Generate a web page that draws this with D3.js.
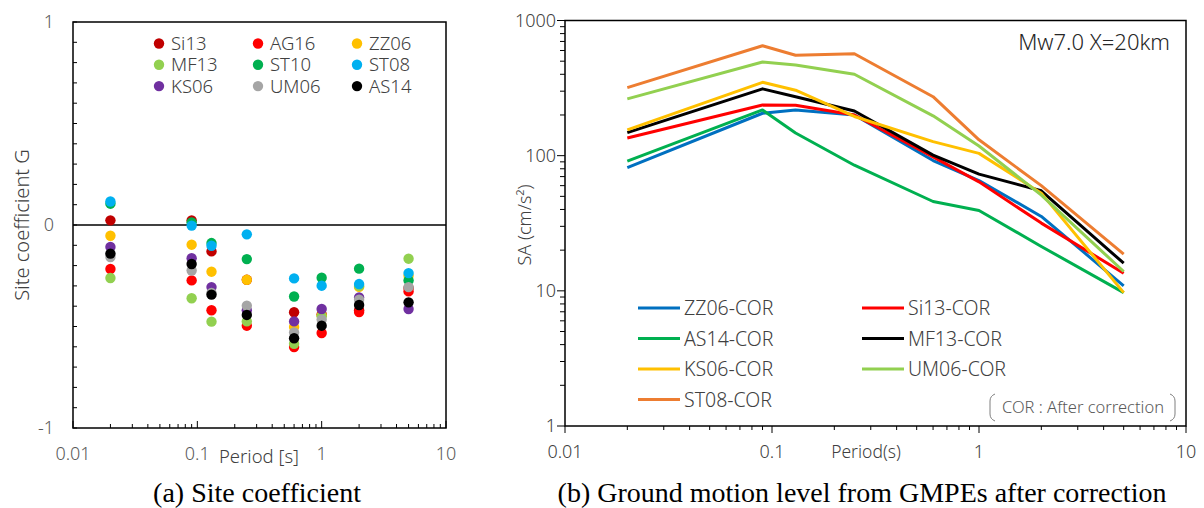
<!DOCTYPE html>
<html>
<head>
<meta charset="utf-8">
<script src="https://d3js.org/d3.v7.min.js"></script>
<style>
  body { margin: 0; background: #fff; }
  svg text { font-family: "Noto Sans", "DejaVu Sans", sans-serif; font-weight: 300; }
  .cap { font-family: "Liberation Serif", "DejaVu Serif", serif; font-weight: normal !important; }
</style>
</head>
<body>
<script>
// ---- data ----
var periods = [0.02, 0.09, 0.13, 0.25, 0.6, 1, 2, 5];

// (a) site coefficient G
var siteNames = ["Si13", "AG16", "ZZ06", "MF13", "ST10", "ST08", "KS06", "UM06", "AS14"];
var siteColors = ["#C00000", "#FF0000", "#FFC000", "#92D050", "#00B050", "#00B0F0", "#7030A0", "#A5A5A5", "#000000"];
var gSi13 = [0.023, 0.023, -0.13, -0.27, -0.43, -0.44, -0.42, -0.31];
var gAG16 = [-0.217, -0.273, -0.42, -0.496, -0.601, -0.532, -0.429, -0.327];
var gZZ06 = [-0.053, -0.097, -0.23, -0.27, -0.502, -0.445, -0.305, -0.25];
var gMF13 = [-0.261, -0.361, -0.476, -0.475, -0.585, -0.45, -0.30, -0.166];
var gST10 = [0.105, 0.013, -0.089, -0.168, -0.352, -0.26, -0.215, -0.273];
var gST08 = [0.116, -0.003, -0.102, -0.046, -0.263, -0.299, -0.291, -0.237];
var gKS06 = [-0.108, -0.164, -0.306, -0.42, -0.475, -0.414, -0.357, -0.414];
var gUM06 = [-0.158, -0.224, -0.335, -0.398, -0.529, -0.466, -0.368, -0.306];
var gAS14 = [-0.141, -0.192, -0.343, -0.443, -0.558, -0.496, -0.394, -0.381];
var siteValues = [gSi13, gAG16, gZZ06, gMF13, gST10, gST08, gKS06, gUM06, gAS14];

// (b) SA after correction (cm/s2)
var corNames = ["ZZ06-COR", "Si13-COR", "AS14-COR", "MF13-COR", "KS06-COR", "UM06-COR", "ST08-COR"];
var corColors = ["#0070C0", "#FF0000", "#00B050", "#000000", "#FFC000", "#92D050", "#ED7D31"];
var saZZ06 = [81.7, 206, 218, 200, 92, 65.5, 35.5, 10.9];
var saSi13 = [135, 237, 236, 200, 98, 64, 31.7, 13.5];
var saAS14 = [91, 218, 147, 85, 45.8, 39.3, 21.3, 9.7];
var saMF13 = [148, 312, 273, 214, 101, 73, 55, 16.0];
var saKS06 = [155, 349, 305, 195, 127, 104, 52.8, 9.7];
var saUM06 = [263, 493, 469, 400, 197, 118, 51, 13.9];
var saST08 = [319, 651, 553, 568, 273, 131, 60, 18.7];
var corValues = [saZZ06, saSi13, saAS14, saMF13, saKS06, saUM06, saST08];

var decadeTicks = [0.01, 0.1, 1, 10];
var decadeLabels = ["0.01", "0.1", "1", "10"];
var saTicks = [1, 10, 100, 1000];
var saLabels = ["1", "10", "100", "1000"];
var gTicks = [-1, 0, 1];

var svg = d3.select("body").append("svg")
    .attr("width", 1204).attr("height", 508);

function minorLog(lo, hi) {
  var out = [];
  for (var e = lo; e < hi; e++)
    for (var k = 1; k < 10; k++) out.push(k * Math.pow(10, e));
  out.push(Math.pow(10, hi));
  return out;
}

/* ---------- (a) site coefficient ---------- */
var xa = d3.scaleLog().domain([0.01, 10]).range([73, 446]);
var ya = d3.scaleLinear().domain([-1, 1]).range([428, 22]);
var A = svg.append("g");

// minor ticks, inside
A.append("g").selectAll("line").data(minorLog(-2, 1)).join("line")
  .attr("x1", d => xa(d)).attr("x2", d => xa(d))
  .attr("y1", 428).attr("y2", d => decadeTicks.indexOf(d) >= 0 ? 421 : 424)
  .attr("stroke", "#000").attr("stroke-width", 1);
A.append("g").selectAll("line").data(d3.range(-10, 11).map(d => d / 10)).join("line")
  .attr("x1", 73).attr("x2", 77)
  .attr("y1", d => ya(d)).attr("y2", d => ya(d))
  .attr("stroke", "#000").attr("stroke-width", 1);

A.append("rect").attr("x", 73).attr("y", 22).attr("width", 373).attr("height", 406)
  .attr("fill", "none").attr("stroke", "#000").attr("stroke-width", 1.5);
A.append("line").attr("x1", 73).attr("x2", 446).attr("y1", ya(0)).attr("y2", ya(0))
  .attr("stroke", "#000").attr("stroke-width", 1.5);

A.append("g").selectAll("text").data(decadeTicks).join("text")
  .attr("x", d => xa(d)).attr("y", 460).attr("text-anchor", "middle")
  .attr("font-size", 18).attr("fill", "#595959")
  .text((d, i) => decadeLabels[i]);
A.append("g").selectAll("text").data(gTicks).join("text")
  .attr("x", 54).attr("y", d => ya(d) + 6).attr("text-anchor", "end")
  .attr("font-size", 18).attr("fill", "#595959")
  .text(d => d);

A.append("text").attr("x", 259).attr("y", 463).attr("text-anchor", "middle")
  .attr("font-size", 18.5).attr("fill", "#404040").text("Period [s]");
A.append("text").attr("transform", "translate(29,225) rotate(-90)")
  .attr("text-anchor", "middle").attr("font-size", 20).attr("fill", "#404040")
  .text("Site coefficient G");

siteNames.forEach(function (n, s) {
  A.append("g").selectAll("circle").data(siteValues[s]).join("circle")
    .attr("cx", (d, i) => xa(periods[i])).attr("cy", d => ya(d))
    .attr("r", 5.2).attr("fill", siteColors[s]);
});

// legend
var leg = A.append("g").selectAll("g").data(siteNames).join("g")
  .attr("transform", (d, i) => "translate(" + (159 + 99 * (i % 3)) + "," + (43.5 + 21.3 * Math.floor(i / 3)) + ")");
leg.append("circle").attr("r", 5.2).attr("fill", (d, i) => siteColors[i]);
leg.append("text").attr("x", 12).attr("y", 6.5).attr("font-size", 18.5).attr("fill", "#404040").text(d => d);

svg.append("text").attr("class", "cap").attr("x", 257).attr("y", 502)
  .attr("text-anchor", "middle").attr("font-size", 28).attr("fill", "#000")
  .text("(a) Site coefficient");

/* ---------- (b) ground motion level ---------- */
var xb = d3.scaleLog().domain([0.01, 10]).range([565, 1186]);
var yb = d3.scaleLog().domain([1, 1000]).range([426, 20.5]);
var B = svg.append("g");

B.append("g").selectAll("line").data(minorLog(0, 3)).join("line")
  .attr("x1", d => saTicks.indexOf(d) >= 0 ? 557 : 560).attr("x2", 565)
  .attr("y1", d => yb(d)).attr("y2", d => yb(d))
  .attr("stroke", "#000").attr("stroke-width", 1);
B.append("g").selectAll("line").data(minorLog(-2, 1)).join("line")
  .attr("x1", d => xb(d)).attr("x2", d => xb(d))
  .attr("y1", 426).attr("y2", d => decadeTicks.indexOf(d) >= 0 ? 433 : 430)
  .attr("stroke", "#000").attr("stroke-width", 1);

B.append("rect").attr("x", 565).attr("y", 20.5).attr("width", 621).attr("height", 405.5)
  .attr("fill", "none").attr("stroke", "#000").attr("stroke-width", 1.5);

B.append("g").selectAll("text").data(decadeTicks).join("text")
  .attr("x", d => xb(d)).attr("y", 458).attr("text-anchor", "middle")
  .attr("font-size", 18).attr("fill", "#404040")
  .text((d, i) => decadeLabels[i]);
B.append("g").selectAll("text").data(saTicks).join("text")
  .attr("x", 556).attr("y", d => yb(d) + 6).attr("text-anchor", "end")
  .attr("font-size", 18).attr("fill", "#404040")
  .text((d, i) => saLabels[i]);

B.append("text").attr("x", 866).attr("y", 458).attr("text-anchor", "middle")
  .attr("font-size", 17.5).attr("fill", "#404040").text("Period(s)");
B.append("text").attr("transform", "translate(531,225) rotate(-90)")
  .attr("text-anchor", "middle").attr("font-size", 18).attr("fill", "#404040")
  .text("SA (cm/s²)");

var line = d3.line().x((d, i) => xb(periods[i])).y(d => yb(d));
B.append("g").selectAll("path").data(corValues).join("path")
  .attr("d", line).attr("fill", "none")
  .attr("stroke", (d, i) => corColors[i]).attr("stroke-width", 3)
  .attr("stroke-linejoin", "round");

B.append("text").attr("x", 1170).attr("y", 50).attr("text-anchor", "end")
  .attr("font-size", 22).attr("fill", "#262626").text("Mw7.0 X=20km");

var lg = B.append("g").selectAll("g").data(corNames).join("g")
  .attr("transform", (d, i) => "translate(" + (638 + 224 * (i % 2)) + "," + (308 + 30.5 * Math.floor(i / 2)) + ")");
lg.append("line").attr("x1", 0).attr("x2", 42).attr("stroke", (d, i) => corColors[i]).attr("stroke-width", 3);
lg.append("text").attr("x", 46).attr("y", 7).attr("font-size", 19.5).attr("fill", "#404040").text(d => d);

// note with brackets
B.append("path").attr("d", "M995,394 Q990,396 990,401 L990,414 Q990,419 995,421")
  .attr("fill", "none").attr("stroke", "#7f7f7f").attr("stroke-width", 1);
B.append("path").attr("d", "M1170,394 Q1175,396 1175,401 L1175,414 Q1175,419 1170,421")
  .attr("fill", "none").attr("stroke", "#7f7f7f").attr("stroke-width", 1);
B.append("text").attr("x", 1083).attr("y", 413).attr("text-anchor", "middle")
  .attr("font-size", 16.5).attr("fill", "#595959").text("COR : After correction");

svg.append("text").attr("class", "cap").attr("x", 862).attr("y", 502)
  .attr("text-anchor", "middle").attr("font-size", 28).attr("fill", "#000")
  .text("(b) Ground motion level from GMPEs after correction");
</script>
</body>
</html>
